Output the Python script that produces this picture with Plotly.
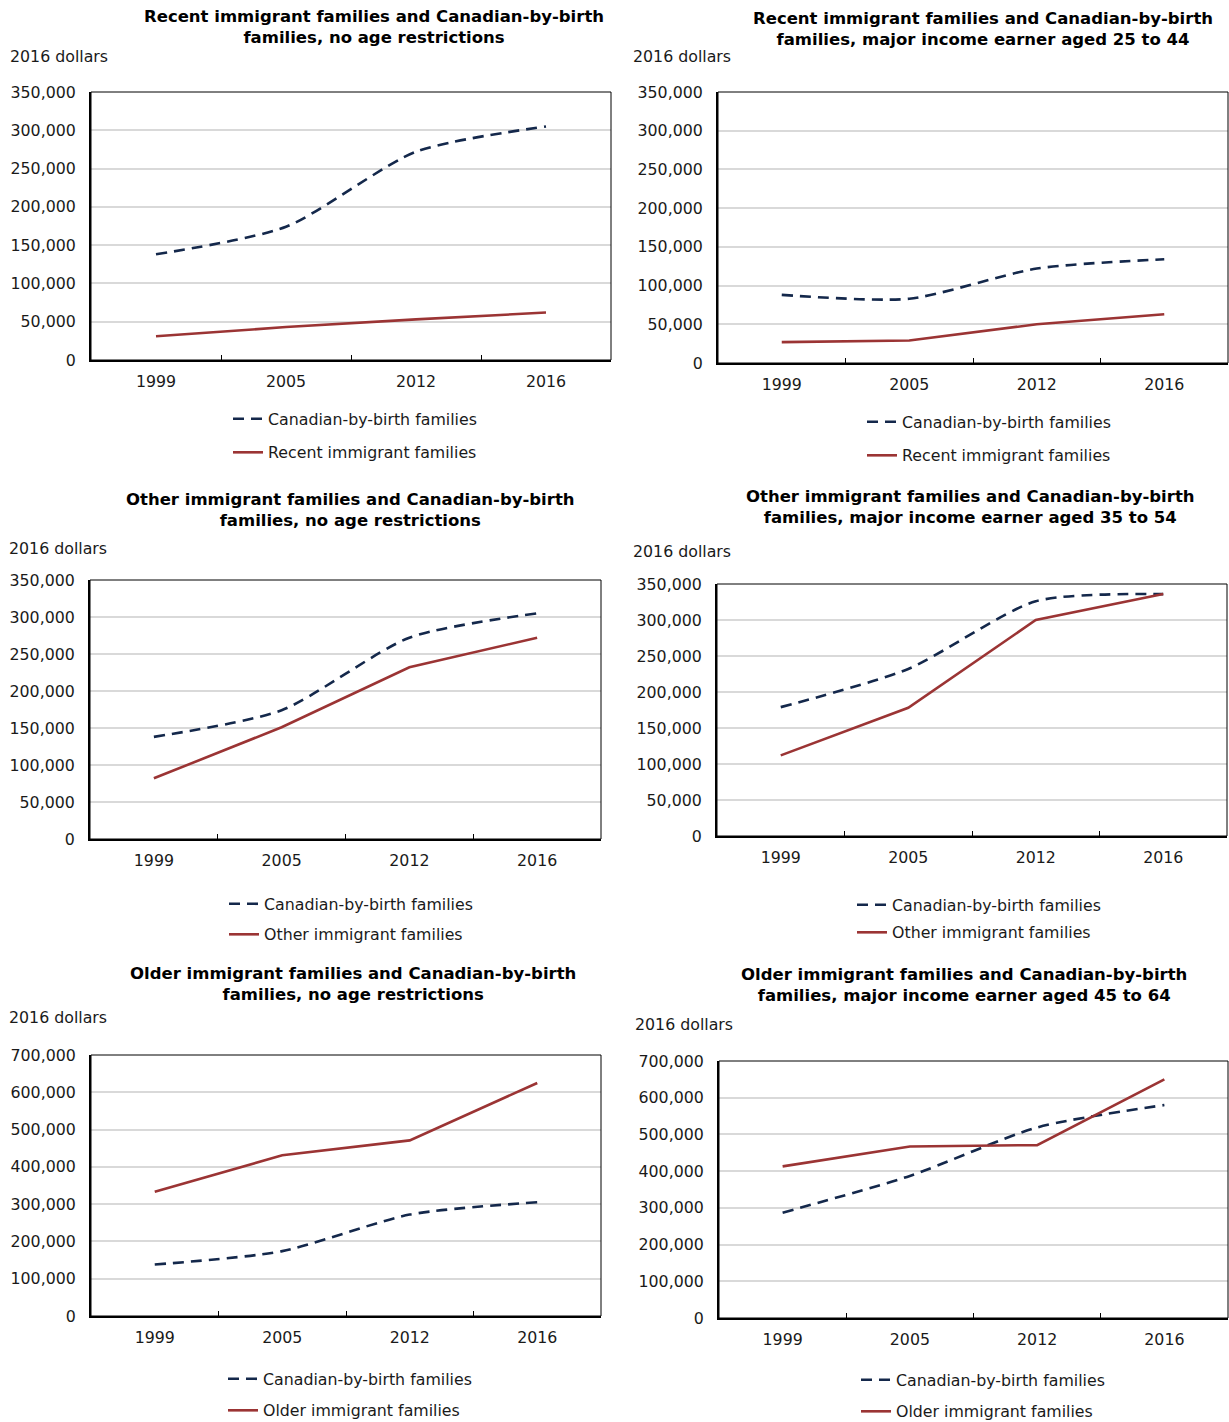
import plotly.graph_objects as go

# Family net worth (median, 2016 dollars) by survey year
years = ["1999", "2005", "2012", "2016"]

canadian_all = [138000, 174000, 272000, 305000]
recent_all = [31000, 43000, 53000, 62000]

canadian_25_44 = [88000, 83000, 122000, 134000]
recent_25_44 = [27000, 29000, 50000, 63000]

other_all = [82000, 151000, 232000, 272000]

canadian_35_54 = [179000, 232000, 326000, 336000]
other_35_54 = [112000, 178000, 300000, 336000]

older_all = [333000, 431000, 471000, 625000]

canadian_45_64 = [287000, 387000, 519000, 580000]
older_45_64 = [413000, 467000, 471000, 650000]

W, H = 1229, 1422
FONT = "DejaVu Sans"
NAVY = "#14284b"
RED = "#9b3434"
TEXT = "#1a1a1a"
FS = 15.8

panels = [
    dict(title="Recent immigrant families and Canadian-by-birth<br>families, no age restrictions",
         cb=canadian_all, imm=recent_all, imm_name="Recent immigrant families", ymax=350000, dtick=50000,
         box=(91, 611, 92, 360), title_xy=(374, 5), unit_xy=(8, 57), leg_xy=(228, 402), gap=10),
    dict(title="Recent immigrant families and Canadian-by-birth<br>families, major income earner aged 25 to 44",
         cb=canadian_25_44, imm=recent_25_44, imm_name="Recent immigrant families", ymax=350000, dtick=50000,
         box=(718, 1228, 92, 363), title_xy=(983, 7), unit_xy=(631, 57), leg_xy=(862, 405), gap=10),
    dict(title="Other immigrant families and Canadian-by-birth<br>families, no age restrictions",
         cb=canadian_all, imm=other_all, imm_name="Other immigrant families", ymax=350000, dtick=50000,
         box=(90, 601, 580, 839), title_xy=(350, 488), unit_xy=(7, 548), leg_xy=(224, 887), gap=7),
    dict(title="Other immigrant families and Canadian-by-birth<br>families, major income earner aged 35 to 54",
         cb=canadian_35_54, imm=other_35_54, imm_name="Other immigrant families", ymax=350000, dtick=50000,
         box=(717, 1227, 584, 836), title_xy=(970, 485), unit_xy=(631, 552), leg_xy=(852, 888), gap=4),
    dict(title="Older immigrant families and Canadian-by-birth<br>families, no age restrictions",
         cb=canadian_all, imm=older_all, imm_name="Older immigrant families", ymax=700000, dtick=100000,
         box=(91, 601, 1055, 1316), title_xy=(353, 962), unit_xy=(7, 1018), leg_xy=(223, 1362), gap=8),
    dict(title="Older immigrant families and Canadian-by-birth<br>families, major income earner aged 45 to 64",
         cb=canadian_45_64, imm=older_45_64, imm_name="Older immigrant families", ymax=700000, dtick=100000,
         box=(719, 1228, 1061, 1318), title_xy=(964, 963), unit_xy=(633, 1024), leg_xy=(856, 1363), gap=8),
]

fig = go.Figure()
layout = dict(
    width=W, height=H,
    margin=dict(l=0, r=0, t=0, b=0, autoexpand=False),
    paper_bgcolor="white", plot_bgcolor="white",
    font=dict(family=FONT, size=FS, color=TEXT),
    showlegend=True,
    annotations=[], shapes=[],
)

for i, p in enumerate(panels, start=1):
    sfx = "" if i == 1 else str(i)
    xa, ya = "x" + sfx, "y" + sfx
    leg = "legend" + sfx
    l, r, t, b = p["box"]

    fig.add_trace(go.Scatter(
        x=years, y=p["cb"], mode="lines", name="Canadian-by-birth families",
        line=dict(color=NAVY, width=2.6, dash="11px,7px", shape="spline", smoothing=0.7),
        xaxis=xa, yaxis=ya, legend=leg, legendgroup=f"cb{i}", hoverinfo="x+y",
    ))
    fig.add_trace(go.Scatter(
        x=years, y=p["imm"], mode="lines", name=p["imm_name"],
        line=dict(color=RED, width=2.6),
        xaxis=xa, yaxis=ya, legend=leg, legendgroup=f"imm{i}", hoverinfo="x+y",
    ))

    layout["xaxis" + sfx] = dict(
        domain=[l / W, r / W], anchor=ya, type="category",
        categoryorder="array", categoryarray=years, range=[-0.5, 3.5],
        tickson="boundaries", ticks="inside", ticklen=5, tickwidth=1, tickcolor="black",
        showline=True, linecolor="black", linewidth=2, showgrid=False, zeroline=False,
        ticklabelstandoff=6, tickfont=dict(size=FS, color=TEXT), fixedrange=True,
    )
    layout["yaxis" + sfx] = dict(
        domain=[1 - b / H, 1 - t / H], anchor=xa, range=[0, p["ymax"]], dtick=p["dtick"],
        tickformat=",", showline=True, linecolor="black", linewidth=2,
        showgrid=True, gridcolor="#d9d9d9", gridwidth=1.5, zeroline=False, ticks="",
        ticklabelstandoff=10, tickfont=dict(size=FS, color=TEXT), fixedrange=True,
    )
    # thin frame on the top and right edges of the plot area
    layout["shapes"].append(dict(
        type="rect", xref=xa + " domain", yref=ya + " domain", x0=0, x1=1, y0=0, y1=1,
        line=dict(color="black", width=1), layer="above",
    ))
    layout["annotations"].append(dict(
        text=p["title"], xref="paper", yref="paper",
        x=p["title_xy"][0] / W, y=1 - p["title_xy"][1] / H,
        xanchor="center", yanchor="top", align="center", showarrow=False,
        font=dict(family=FONT, size=16.5, color="black", weight="bold"),
    ))
    layout["annotations"].append(dict(
        text="2016 dollars", xref="paper", yref="paper",
        x=p["unit_xy"][0] / W, y=1 - p["unit_xy"][1] / H,
        xanchor="left", yanchor="middle", showarrow=False,
        font=dict(family=FONT, size=FS, color=TEXT),
    ))
    layout[leg] = dict(
        x=p["leg_xy"][0] / W, y=1 - p["leg_xy"][1] / H, xanchor="left", yanchor="top",
        orientation="v", bgcolor="rgba(0,0,0,0)", borderwidth=0,
        tracegroupgap=p["gap"], font=dict(family=FONT, size=FS, color=TEXT),
        traceorder="grouped",
    )

fig.update_layout(**layout)
fig.write_html("out.html")
